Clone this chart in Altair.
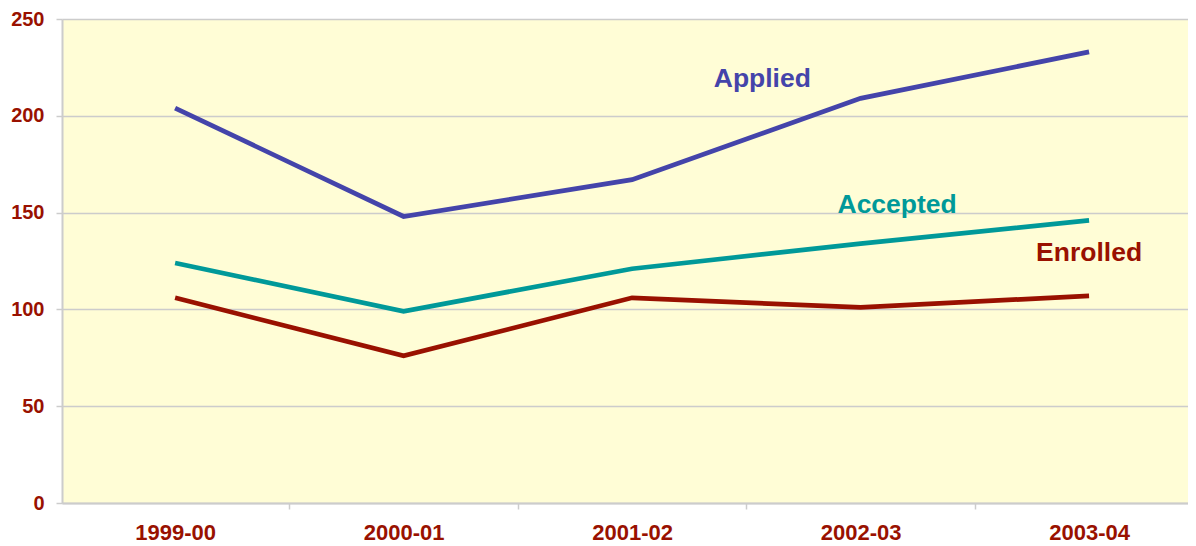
import json
import altair as alt
import pandas as pd

# ---- data ----
categories = ["1999-00", "2000-01", "2001-02", "2002-03", "2003-04"]
applied = [204, 148, 167, 209, 233]
accepted = [124, 99, 121, 134, 146]
enrolled = [106, 76, 106, 101, 107]

series_names = ["Applied", "Accepted", "Enrolled"]
series_colors = ["#4444AA", "#009999", "#991100"]

# annotation anchors (category index, value)
label_x = [2.57, 3.16, 4.0]
label_y = [219, 154, 129]

y_ticks = [0, 50, 100, 150, 200, 250]

# ---- tables ----
rows = []
for name, vals in zip(series_names, [applied, accepted, enrolled]):
    for i, v in enumerate(vals):
        rows.append({"idx": i, "value": v, "series": name})
df = pd.DataFrame(rows)
lab_df = pd.DataFrame({"series": series_names, "lx": label_x, "ly": label_y})

n = len(categories)
x_vals = []
for i in range(n):
    x_vals.append(i - 0.5)
    x_vals.append(i)

FONT = "Arial, Liberation Sans, sans-serif"
AXIS_RED = "#991100"
GRAY = "#CCCCCC"

label_expr = f"datum.value % 1 === 0 ? {json.dumps(categories)}[datum.value] : ''"

x_enc = alt.X(
    "idx:Q",
    title=None,
    scale=alt.Scale(domain=[-0.495, n - 0.567], nice=False, zero=False),
    axis=alt.Axis(
        values=x_vals,
        labelExpr=label_expr,
        grid=False,
        tickOpacity={"condition": {"test": "datum.value % 1 !== 0", "value": 1}, "value": 0},
        tickSize=6,
        tickColor=GRAY,
        tickWidth=1.5,
        domainColor=GRAY,
        domainWidth=2,
        labelFont=FONT,
        labelFontSize=22,
        labelFontWeight="bold",
        labelColor=AXIS_RED,
        labelPadding=13,
        labelFlush=False,
        labelOverlap=False,
    ),
)

y_enc = alt.Y(
    "value:Q",
    title=None,
    scale=alt.Scale(domain=[0, 250], nice=False),
    axis=alt.Axis(
        values=y_ticks,
        grid=True,
        gridColor=GRAY,
        gridWidth=1.5,
        tickSize=6,
        tickColor=GRAY,
        tickWidth=1.5,
        domainColor=GRAY,
        domainWidth=2,
        labelFont=FONT,
        labelFontSize=20,
        labelFontWeight="bold",
        labelColor=AXIS_RED,
        labelPadding=12,
    ),
)

color_scale = alt.Scale(domain=series_names, range=series_colors)

lines = alt.Chart(df).mark_line(strokeWidth=4.7, strokeCap="butt").encode(
    x=x_enc,
    y=y_enc,
    color=alt.Color("series:N", scale=color_scale, legend=None),
)

texts = alt.Chart(lab_df).mark_text(
    font=FONT, fontSize=26.5, fontWeight="bold", align="center", baseline="middle"
).encode(
    x=alt.X("lx:Q"),
    y=alt.Y("ly:Q"),
    text="series:N",
    color=alt.Color("series:N", scale=color_scale, legend=None),
)

chart = alt.layer(lines, texts).properties(
    width=1126,
    height=484,
    padding={"left": 54, "top": 11, "right": 0, "bottom": 42},
    autosize=alt.AutoSizeParams(type="none"),
    background="white",
).configure_view(fill="#FFFDD6", stroke="transparent")

chart.save("out.html", embed_options={"renderer": "svg", "actions": False})
